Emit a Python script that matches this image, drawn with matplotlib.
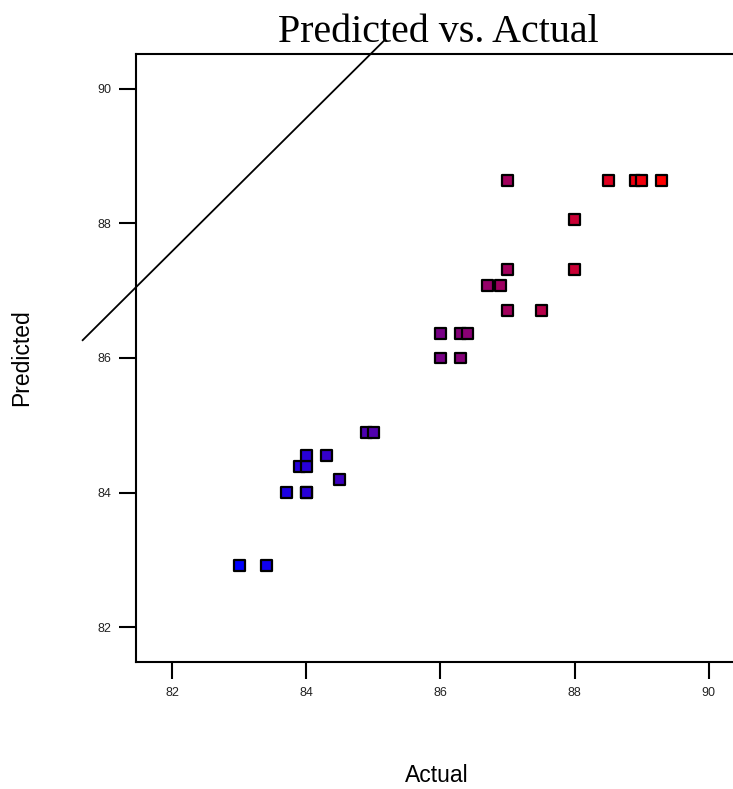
import matplotlib
matplotlib.use("Agg")
import matplotlib.pyplot as plt
import numpy as np

actual = [83.0, 83.4, 83.7, 84.0, 84.0, 83.9, 84.0, 84.0, 84.3, 84.5, 84.9, 85.0,
          86.0, 86.3, 86.0, 86.3, 86.4, 86.7, 86.9, 87.0, 87.5, 87.0, 88.0, 88.0,
          87.0, 88.5, 88.9, 89.0, 89.3]
predicted = [82.91, 82.91, 84.0, 84.0, 84.0, 84.39, 84.39, 84.55, 84.55, 84.19, 84.89, 84.89,
             86.0, 86.0, 86.36, 86.36, 86.36, 87.08, 87.08, 86.71, 86.71, 87.31, 87.31, 88.06,
             88.64, 88.64, 88.64, 88.64, 88.64]
ref_line_x = [80.665, 85.17]
ref_line_y = [86.265, 90.73]
ticks = [82, 84, 86, 88, 90]

W, H = 733, 789
fig = plt.figure(figsize=(W / 100, H / 100), dpi=100)
left, right, top, bottom = 136, 745, 54, 662
ax = fig.add_axes([left / W, 1 - bottom / H, (right - left) / W, (bottom - top) / H])
ax.set_xlim(81.46, 90.54)
ax.set_ylim(81.48, 90.52)

a = np.array(actual)
t = (a - a.min()) / (a.max() - a.min())
colors = [(float(v), 0.0, float(1 - v)) for v in t]

ax.scatter(actual, predicted, marker="s", s=62, c=colors, edgecolors="black",
           linewidths=1.6, zorder=3)
ax.plot(ref_line_x, ref_line_y, color="black", lw=1.3, clip_on=False, zorder=2)

for s in ["left", "bottom", "top"]:
    ax.spines[s].set_linewidth(1.5)
ax.spines["right"].set_visible(False)

ax.set_xticks(ticks)
ax.set_yticks(ticks)
ax.tick_params(direction="out", length=12, width=1.5, labelsize=9, pad=6,
               labelcolor="#222222")
for lab in ax.get_xticklabels() + ax.get_yticklabels():
    lab.set_family("Liberation Sans")

fig.text(438 / W, 1 - 32 / H, "Predicted vs. Actual", family="Liberation Serif",
         fontsize=28.8, ha="center", va="center")
fig.text(437 / W, 1 - 776 / H, "Actual", family="Liberation Sans", fontsize=16.5,
         ha="center", va="center")
fig.text(22 / W, 1 - 358 / H, "Predicted", family="Liberation Sans", fontsize=16.5,
         ha="center", va="center", rotation=90)

fig.savefig("out.png", dpi=100)
